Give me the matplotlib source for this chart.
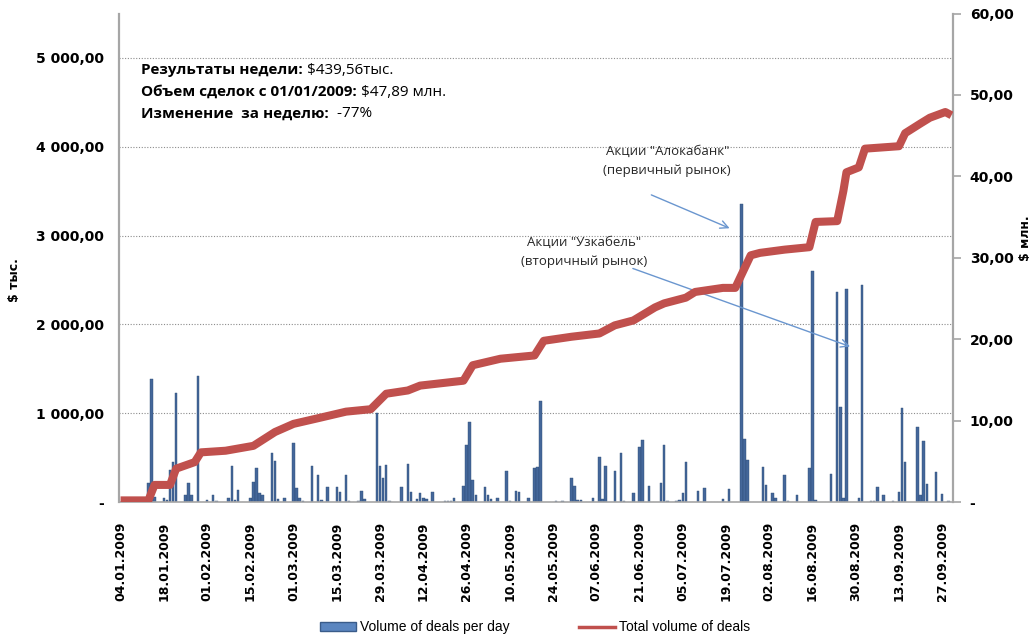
import numpy as np
import matplotlib.pyplot as plt
from matplotlib.lines import Line2D
from matplotlib.patches import Patch
from matplotlib.ticker import FuncFormatter, FixedLocator
from matplotlib.dates import DateFormatter

# first and last day on the date axis
start = np.datetime64('2009-01-04')
last = np.datetime64('2009-09-30')

# daily volume of deals, thousand $ (day = days since 04.01.2009)
bar_day = [9, 10, 11, 14, 15, 16, 17, 18, 21, 22, 23, 25, 28, 30, 31, 35, 36, 37, 38,
           42, 43, 44, 45, 46, 49, 50, 51, 53, 56, 57, 58, 59, 62, 64, 65, 67, 70, 71,
           73, 74, 77, 78, 79, 83, 84, 85, 86, 87, 91, 93, 94, 96, 97, 98, 99, 101,
           105, 106, 107, 108, 111, 112, 113, 114, 115, 118, 119, 120, 122, 125, 126,
           128, 129, 132, 134, 135, 136, 141, 143, 146, 147, 148, 149, 153, 155, 156,
           157, 160, 162, 163, 166, 168, 169, 171, 175, 176, 177, 180, 181, 182, 183,
           187, 189, 195, 197, 201, 202, 203, 208, 209, 211, 212, 215, 216, 219, 223,
           224, 225, 230, 232, 233, 234, 235, 239, 240, 243, 244, 245, 247, 250, 252,
           253, 254, 258, 259, 260, 261, 264, 266, 268]
bar_value = [210, 1380, 60, 40, 20, 360, 450, 1230, 80, 217, 80, 1420, 20, 80, 15, 40, 408, 20, 135,
             50, 228, 378, 97, 79, 554, 464, 30, 40, 670, 153, 40, 15, 404, 303, 20, 172, 172, 116,
             303, 15, 15, 127, 30, 997, 404, 266, 415, 15, 172, 423, 116, 30, 97, 50, 30, 116,
             10, 10, 10, 50, 183, 640, 903, 247, 79, 172, 79, 30, 40, 352, 15,
             127, 116, 40, 378, 389, 1139, 15, 15, 273, 183, 20, 20, 40, 509, 30,
             404, 352, 554, 15, 97, 614, 697, 183, 210, 640, 15, 15, 20, 97, 453,
             127, 153, 30, 143, 3350, 704, 472, 397, 191, 97, 40, 303, 15, 79, 378,
             2600, 20, 315, 2370, 1071, 50, 2400, 50, 2440, 15, 15, 172, 79, 15, 116,
             1053, 453, 839, 79, 689, 202, 333, 90, 15]

# total volume of deals, million $
line_day = [0, 9, 11, 16, 18, 24, 26, 34, 43, 50, 56, 64, 73, 81, 86, 93, 97, 111, 114,
            123, 134, 137, 146, 155, 160, 166, 173, 176, 183, 186, 195, 199, 204, 207,
            215, 223, 225, 232, 234, 235, 239, 241, 252, 254, 259, 262, 267, 269]
line_value = [0.2, 0.2, 2.1, 2.1, 4.1, 4.9, 6.1, 6.3, 6.9, 8.6, 9.6, 10.3, 11.1, 11.4, 13.3, 13.7, 14.3, 14.9, 16.8,
              17.6, 18.0, 19.8, 20.3, 20.7, 21.7, 22.3, 23.9, 24.4, 25.1, 25.8, 26.3, 26.3, 30.3, 30.6,
              31.0, 31.3, 34.4, 34.5, 38.2, 40.5, 41.1, 43.4, 43.7, 45.3, 46.5, 47.2, 47.9, 47.5]

left_ticks = [0, 1000, 2000, 3000, 4000, 5000]
right_ticks = [0, 10, 20, 30, 40, 50, 60]

bar_color = '#44679A'
line_color = '#C0504D'
grey = '#A6A6A6'
narrow = ['Liberation Sans Narrow', 'Liberation Sans', 'DejaVu Sans']
text_font = ['Open Sans', 'DejaVu Sans']

fig = plt.figure(figsize=(10.35, 6.37), dpi=100)
ax = fig.add_axes([0.115, 0.2119, 0.8058, 0.7669])
ax2 = ax.twinx()

ax.bar(start + np.array(bar_day), bar_value, width=0.8, color=bar_color,
       edgecolor='#2F4D78', linewidth=0.3, zorder=2)
ax2.plot(start + np.array(line_day), line_value, color=line_color, lw=5.8,
         solid_joinstyle='round', solid_capstyle='butt', zorder=3)

ax.set_xlim(start - np.timedelta64(12, 'h'), last + np.timedelta64(12, 'h'))
ax.set_ylim(0, 5500)
ax2.set_ylim(0, 60)

# axis ticks and labels
ax.set_xticks(start + np.arange(0, 267, 14))
ax.xaxis.set_major_formatter(DateFormatter('%d.%m.%Y'))
ax.tick_params(axis='x', length=0, pad=14, rotation=90, labelsize=9)
for lab in ax.get_xticklabels():
    lab.set_fontweight('bold')

ax.yaxis.set_major_locator(FixedLocator(left_ticks))
ax.yaxis.set_major_formatter(FuncFormatter(
    lambda v, p: '-' if v == 0 else f'{v:,.2f}'.replace(',', ' ').replace('.', ',')))
ax.tick_params(axis='y', length=0, pad=11, labelsize=10)
for lab in ax.get_yticklabels():
    lab.set_fontweight('bold')

ax2.yaxis.set_major_locator(FixedLocator(right_ticks))
ax2.yaxis.set_major_formatter(FuncFormatter(
    lambda v, p: '-' if v == 0 else f'{v:.2f}'.replace('.', ',')))
ax2.tick_params(axis='y', length=6, width=1.2, color=grey, pad=6, labelsize=10)
for lab in ax2.get_yticklabels():
    lab.set_fontweight('bold')

ax.yaxis.grid(True, linestyle=(0, (1, 1.5)), color='#8C8C8C', lw=0.8)
ax.set_axisbelow(True)

for s in ['top', 'right']:
    ax.spines[s].set_visible(False)
for s in ['top', 'left', 'bottom']:
    ax2.spines[s].set_visible(False)
ax.spines['left'].set_color(grey)
ax.spines['left'].set_linewidth(1.6)
ax.spines['bottom'].set_color(grey)
ax.spines['bottom'].set_linewidth(1.2)
ax2.spines['right'].set_color(grey)
ax2.spines['right'].set_linewidth(1.6)

ax.set_ylabel('$ тыс.', fontweight='bold', fontsize=9)
ax.yaxis.set_label_coords(-0.117, 0.455)
ax2.set_ylabel('$ млн.', fontweight='bold', fontsize=9)
ax2.yaxis.set_label_coords(1.079, 0.54)

# weekly summary
summary = [('Результаты недели:', ' $439,56тыс.', 0.884),
           ('Объем сделок с 01/01/2009:', ' $47,89 млн.', 0.839),
           ('Изменение  за неделю:', '  -77%', 0.795)]
for bold, regular, y in summary:
    t = ax.text(0.0264, y, bold, transform=ax.transAxes, fontweight='bold',
                fontsize=11, va='center', family=text_font)
    ax.annotate(regular, xy=(1, 0.5), xycoords=t, va='center', ha='left',
                fontsize=11, family=text_font)

# notes with arrows
arrow = dict(arrowstyle='->', color='#6A96CF', lw=1, mutation_scale=14)
ax.annotate('', xy=(start + np.timedelta64(198, 'D'), 3070),
            xytext=(start + np.timedelta64(171, 'D'), 3470), arrowprops=arrow)
ax.text(start + np.timedelta64(177, 'D'), 3840, 'Акции "Алокабанк"\n(первичный рынок)',
        ha='center', va='center', fontsize=9.5, color='#262626', linespacing=1.6,
        family=text_font)
ax.annotate('', xy=(start + np.timedelta64(237, 'D'), 1740),
            xytext=(start + np.timedelta64(165, 'D'), 2640), arrowprops=arrow)
ax.text(start + np.timedelta64(150, 'D'), 2820, 'Акции "Узкабель"\n(вторичный рынок)',
        ha='center', va='center', fontsize=9.5, color='#262626', linespacing=1.6,
        family=text_font)

handles = [Patch(facecolor='#5B86C0', edgecolor='#3A5C8A', label='Volume of deals per day'),
           Line2D([], [], color=line_color, lw=2.5, label='Total volume of deals')]
fig.legend(handles=handles, loc='center', bbox_to_anchor=(0.517, 0.015), ncol=2,
           frameon=False, prop={'family': narrow, 'size': 10}, handlelength=2.6,
           handletextpad=0.3, columnspacing=5)

fig.savefig('out.png', dpi=100)
